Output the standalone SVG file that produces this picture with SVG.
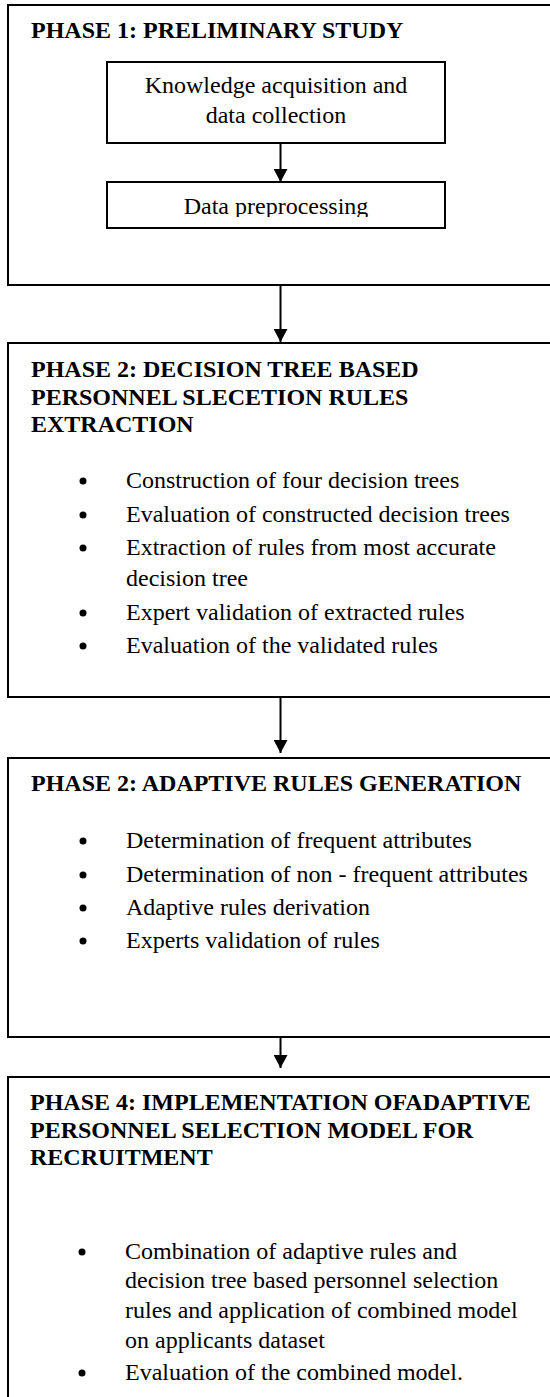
<svg xmlns="http://www.w3.org/2000/svg" width="550" height="1397" viewBox="0 0 550 1397">
<style>
.box{fill:#fff;stroke:#000;stroke-width:2}
.t{font-family:"Liberation Serif","Times New Roman",serif;font-size:24px;fill:#000}
.h{font-family:"Liberation Serif","Times New Roman",serif;font-size:24px;font-weight:bold;fill:#000}
.c{text-anchor:middle}
.conn line{stroke:#000;stroke-width:2}
</style>
<defs>
<marker id="ah" viewBox="0 0 14 15" refX="14" refY="7.5" markerWidth="15" markerHeight="14" markerUnits="userSpaceOnUse" orient="auto">
<path d="M0,0 L14,7.5 L0,15 Z" fill="#000"/>
</marker>
<clipPath id="cp"><rect x="100" y="183" width="350" height="34"/></clipPath>
</defs>
<rect width="550" height="1397" fill="#fff"/>
<g id="phase1">
<rect class="box" x="8" y="5" width="560" height="280"/>
<text class="h" x="31" y="38">PHASE 1: PRELIMINARY STUDY</text>
</g>
<g id="knowledge">
<rect class="box" x="107" y="62" width="338" height="81"/>
<text class="t c" x="276" y="93">Knowledge acquisition and</text>
<text class="t c" x="276" y="123">data collection</text>
</g>
<g id="preprocessing">
<rect class="box" x="107" y="182" width="338" height="46"/>
<text class="t c" x="276" y="214" clip-path="url(#cp)">Data preprocessing</text>
</g>
<g id="phase2">
<rect class="box" x="8" y="343" width="560" height="354"/>
<text class="h" x="31" y="377">PHASE 2: DECISION TREE BASED</text>
<text class="h" x="31" y="405">PERSONNEL SLECETION RULES</text>
<text class="h" x="31" y="432">EXTRACTION</text>
<circle cx="83" cy="481" r="3.5"/><text class="t" x="126" y="488">Construction of four decision trees</text>
<circle cx="83" cy="515" r="3.5"/><text class="t" x="126" y="522">Evaluation of constructed decision trees</text>
<circle cx="83" cy="548" r="3.5"/><text class="t" x="126" y="555">Extraction of rules from most accurate</text>
<text class="t" x="126" y="586">decision tree</text>
<circle cx="83" cy="613" r="3.5"/><text class="t" x="126" y="620">Expert validation of extracted rules</text>
<circle cx="83" cy="646" r="3.5"/><text class="t" x="126" y="653">Evaluation of the validated rules</text>
</g>
<g id="phase3">
<rect class="box" x="8" y="758" width="560" height="279"/>
<text class="h" x="31" y="791">PHASE 2: ADAPTIVE RULES GENERATION</text>
<circle cx="83" cy="841" r="3.5"/><text class="t" x="126" y="848">Determination of frequent attributes</text>
<circle cx="83" cy="875" r="3.5"/><text class="t" x="126" y="882">Determination of non - frequent attributes</text>
<circle cx="83" cy="908" r="3.5"/><text class="t" x="126" y="915">Adaptive rules derivation</text>
<circle cx="83" cy="941" r="3.5"/><text class="t" x="126" y="948">Experts validation of rules</text>
</g>
<g id="phase4">
<rect class="box" x="8" y="1077" width="560" height="340"/>
<text class="h" x="30" y="1110">PHASE 4: IMPLEMENTATION OFADAPTIVE</text>
<text class="h" x="30" y="1138">PERSONNEL SELECTION MODEL FOR</text>
<text class="h" x="30" y="1165">RECRUITMENT</text>
<circle cx="82" cy="1252" r="3.5"/><text class="t" x="125" y="1259">Combination of adaptive rules and</text>
<text class="t" x="125" y="1288">decision tree based personnel selection</text>
<text class="t" x="125" y="1318">rules and application of combined model</text>
<text class="t" x="125" y="1348">on applicants dataset</text>
<circle cx="82" cy="1373" r="3.5"/><text class="t" x="125" y="1380">Evaluation of the combined model.</text>
</g>
<g id="connectors" class="conn">
<line x1="280.5" y1="143" x2="280.5" y2="182" marker-end="url(#ah)"/>
<line x1="280.5" y1="285" x2="280.5" y2="342" marker-end="url(#ah)"/>
<line x1="280.5" y1="697" x2="280.5" y2="753" marker-end="url(#ah)"/>
<line x1="280.5" y1="1037" x2="280.5" y2="1068" marker-end="url(#ah)"/>
</g>
</svg>
